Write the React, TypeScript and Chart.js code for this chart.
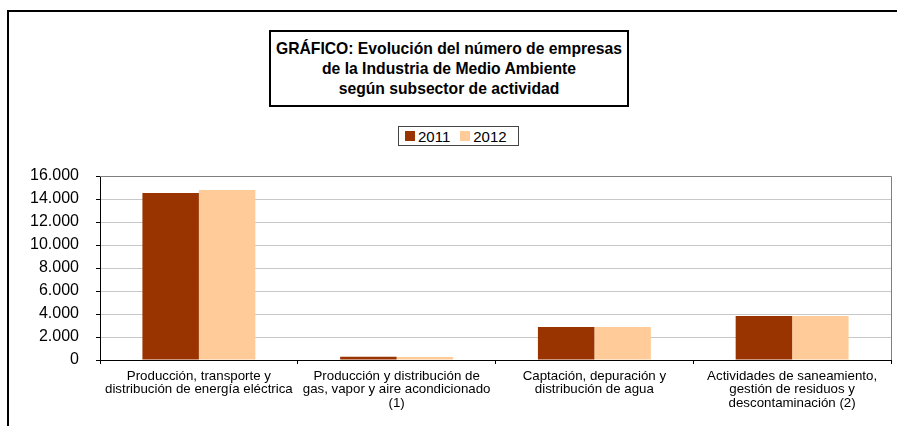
import React, { useEffect, useRef } from "react";
import { Chart, registerables } from "chart.js";

Chart.register(...registerables);

const titleLines = [
  "GRÁFICO: Evolución del número de empresas",
  "de la Industria de Medio Ambiente",
  "según subsector de actividad",
];

const categories: string[][] = [
  ["Producción, transporte y", "distribución de energía eléctrica"],
  ["Producción y distribución de", "gas, vapor y aire acondicionado", "(1)"],
  ["Captación, depuración y", "distribución de agua"],
  ["Actividades de saneamiento,", "gestión de residuos y", "descontaminación (2)"],
];

const seriesNames = ["2011", "2012"];
const values2011 = [14520, 280, 2870, 3830];
const values2012 = [14780, 265, 2870, 3830];
const seriesColors = ["#993300", "#FFCC99"];

const yMin = 0;
const yMax = 16000;
const yStep = 2000;

const FONT = "'Liberation Sans', Arial, sans-serif";

const fmt = (v: number) => String(v).replace(/\B(?=(\d{3})+(?!\d))/g, ".");

const plotBorder = {
  id: "plotBorder",
  afterDraw(chart: any) {
    const { ctx, chartArea } = chart;
    ctx.save();
    ctx.strokeStyle = "#7f7f7f";
    ctx.lineWidth = 1;
    ctx.beginPath();
    ctx.moveTo(chartArea.left, chartArea.top + 0.5);
    ctx.lineTo(chartArea.right + 0.5, chartArea.top + 0.5);
    ctx.lineTo(chartArea.right + 0.5, chartArea.bottom);
    ctx.stroke();
    ctx.restore();
  },
};

export default function App() {
  const ref = useRef<HTMLCanvasElement | null>(null);

  useEffect(() => {
    if (!ref.current) return;
    const chart = new Chart(ref.current, {
      type: "bar",
      data: {
        labels: categories,
        datasets: [
          {
            label: seriesNames[0],
            data: values2011,
            backgroundColor: seriesColors[0],
            borderWidth: 0,
          },
          {
            label: seriesNames[1],
            data: values2012,
            backgroundColor: seriesColors[1],
            borderWidth: 0,
          },
        ],
      },
      options: {
        animation: false,
        responsive: false,
        layout: { padding: { top: 16, right: 6, left: 0, bottom: 0 } },
        datasets: {
          bar: { categoryPercentage: 0.571, barPercentage: 1 },
        } as any,
        plugins: {
          legend: { display: false },
          title: { display: false },
          tooltip: { enabled: false },
        },
        scales: {
          x: {
            grid: {
              drawOnChartArea: false,
              drawTicks: true,
              tickLength: 4,
              tickColor: "#000",
              offset: true,
            },
            border: { color: "#000", width: 1 },
            ticks: {
              color: "#000",
              padding: 5,
              maxRotation: 0,
              autoSkip: false,
              font: { family: FONT, size: 13.3, lineHeight: 1.03 },
            },
            afterFit: (s: any) => {
              s.height = 66;
              s.paddingLeft = 0;
              s.paddingRight = 0;
              s.paddingTop = 0;
              s.paddingBottom = 0;
            },
          },
          y: {
            min: yMin,
            max: yMax,
            grid: {
              color: (c: any) => (c.tick && c.tick.value === yMax ? "#7f7f7f" : "#c8c8c8"),
              tickColor: "#000",
              tickLength: 4,
              lineWidth: 1,
            },
            border: { color: "#000", width: 1 },
            ticks: {
              stepSize: yStep,
              autoSkip: false,
              color: "#000",
              padding: 17,
              font: { family: FONT, size: 16 },
              callback: (v: any) => fmt(Number(v)),
            },
            afterFit: (s: any) => {
              s.width = 100;
              s.paddingTop = 0;
              s.paddingBottom = 0;
              s.paddingLeft = 0;
              s.paddingRight = 0;
            },
          },
        },
      },
      plugins: [plotBorder],
    });
    return () => chart.destroy();
  }, []);

  return (
    <div
      style={{
        position: "absolute",
        left: 0,
        top: 0,
        width: 897,
        height: 426,
        overflow: "hidden",
        background: "#fff",
        fontFamily: FONT,
      }}
    >
      <div
        style={{
          position: "absolute",
          left: 7,
          top: 10,
          width: 950,
          height: 500,
          borderTop: "2px solid #000",
          borderLeft: "2px solid #000",
          boxSizing: "border-box",
        }}
      />
      <div
        style={{
          position: "absolute",
          left: 269,
          top: 30,
          width: 360,
          height: 77,
          border: "2px solid #000",
          boxSizing: "border-box",
          textAlign: "center",
          fontWeight: "bold",
          fontSize: 15.7,
          lineHeight: "20px",
          paddingTop: 7,
          color: "#000",
        }}
      >
        {titleLines.map((t, i) => (
          <div key={i} style={{ whiteSpace: "nowrap" }}>
            {t}
          </div>
        ))}
      </div>
      <div
        style={{
          position: "absolute",
          left: 398,
          top: 126,
          width: 121,
          height: 20,
          border: "1px solid #444",
          boxSizing: "border-box",
          display: "flex",
          alignItems: "center",
          paddingLeft: 6,
          fontSize: 15,
          color: "#000",
        }}
      >
        {seriesNames.map((n, i) => (
          <div key={n} style={{ display: "flex", alignItems: "center", marginRight: i === 0 ? 10 : 0 }}>
            <span
              style={{
                display: "inline-block",
                width: 10,
                height: 10,
                background: seriesColors[i],
                marginRight: 3,
              }}
            />
            <span>{n}</span>
          </div>
        ))}
      </div>
      <div style={{ position: "absolute", left: 0, top: 160, width: 897, height: 266 }}>
        <canvas ref={ref} width={897} height={266} style={{ display: "block" }} />
      </div>
    </div>
  );
}
